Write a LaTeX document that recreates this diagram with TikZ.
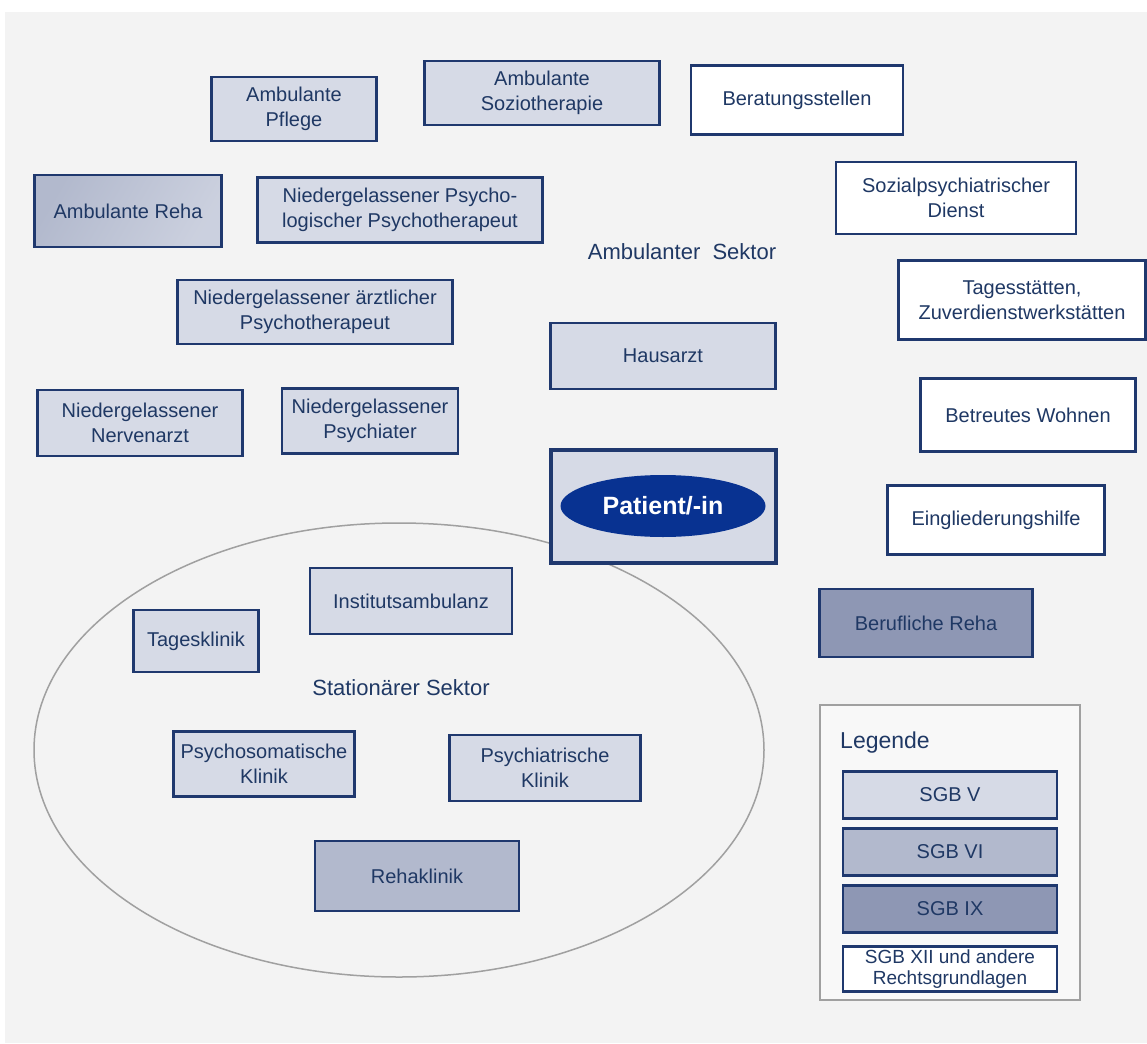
\documentclass[tikz,border=0pt]{standalone}
\usepackage{fontspec}
\setmainfont{Liberation Sans}
\usetikzlibrary{shapes.geometric}
\definecolor{bgc}{RGB}{243,243,243}
\definecolor{navy}{RGB}{31,56,110}
\definecolor{txt}{RGB}{31,56,100}
\definecolor{sgbv}{RGB}{214,218,230}
\definecolor{sgbvi}{RGB}{178,185,205}
\definecolor{sgbix}{RGB}{142,151,180}
\definecolor{pblue}{RGB}{8,50,145}
\definecolor{lgray}{RGB}{160,160,160}
\tikzset{
  box/.style={draw=navy, line width=2.5pt, rectangle, inner sep=0pt, align=center,
    text=txt, font=\fontsize{20}{25}\selectfont},
  fv/.style={box, fill=sgbv},
  fvi/.style={box, fill=sgbvi},
  fix/.style={box, fill=sgbix},
  fw/.style={box, fill=white},
  sector/.style={text=txt, font=\fontsize{22}{26}\selectfont, inner sep=0pt},
}
\begin{document}
\begin{tikzpicture}[x=1pt,y=-1pt]
\useasboundingbox (0,0) rectangle (1147,1043);
\fill[white] (0,0) rectangle (1147,1043);
\fill[bgc] (5,12) rectangle (1147,1043);

% Stationaerer Sektor ellipse
\draw[lgray, line width=1.5pt] (399,750) ellipse [x radius=365pt, y radius=227pt];

% Ambulant boxes
\node[fv, minimum width=165pt, minimum height=64pt] (pflege) at (294,109) {Ambulante\\Pflege};
\node[fv, minimum width=235pt, minimum height=64pt] (sozio) at (542,93) {Ambulante\\Soziotherapie};
\node[fw, minimum width=212pt, minimum height=69pt] (berat) at (797,100) {Beratungsstellen};
\node[fvi, minimum width=187pt, minimum height=72pt, shading=axis, left color=sgbvi, right color=sgbv!70!sgbvi, shading angle=60] (areha) at (128,211) {Ambulante Reha};
\node[fv, minimum width=285pt, minimum height=65pt] (npsych) at (400,210) {Niedergelassener Psycho-\\logischer Psychotherapeut};
\node[fw, minimum width=240pt, minimum height=72pt] (spd) at (956,198) {Sozialpsychiatrischer\\Dienst};
\node[sector] (amb) at (682,252) {Ambulanter\ \ Sektor};
\node[fv, minimum width=275pt, minimum height=64pt] (aerzt) at (315,312) {Niedergelassener ärztlicher\\Psychotherapeut};
\node[fw, minimum width=247pt, minimum height=79pt] (tages) at (1022,300) {Tagesstätten,\\Zuverdienstwerkstätten};
\node[fv, minimum width=225pt, minimum height=66pt] (haus) at (663,356) {Hausarzt};
\node[fw, minimum width=215pt, minimum height=73pt] (bw) at (1028,415) {Betreutes Wohnen};
\node[fv, minimum width=205pt, minimum height=66pt] (nerven) at (140,423) {Niedergelassener\\Nervenarzt};
\node[fv, minimum width=176pt, minimum height=65pt] (psychiater) at (370,421) {Niedergelassener\\Psychiater};

% Patient
\node[fv, line width=4pt, minimum width=225pt, minimum height=113pt] (pbox) at (663,506) {};
\node[ellipse, fill=pblue, inner sep=0pt, minimum width=205pt, minimum height=62pt,
  text=white, font=\fontsize{25}{30}\selectfont\bfseries] (patient) at (pbox.center) {Patient/-in};

\node[fw, minimum width=217pt, minimum height=69pt] (eingl) at (996,520) {Eingliederungshilfe};
\node[fix, minimum width=213pt, minimum height=68pt] (beruf) at (926,623) {Berufliche Reha};

% Stationaer boxes
\node[fv, minimum width=202pt, minimum height=66pt] (inst) at (411,601) {Institutsambulanz};
\node[fv, minimum width=125pt, minimum height=62pt] (tagesk) at (196,641) {Tagesklinik};
\node[sector] (stat) at (401,688) {Stationärer Sektor};
\node[fv, minimum width=181pt, minimum height=65pt] (psom) at (264,764) {Psychosomatische\\Klinik};
\node[fv, minimum width=191pt, minimum height=66pt] (psychk) at (545,768) {Psychiatrische\\Klinik};
\node[fvi, minimum width=204pt, minimum height=70pt] (reha) at (417,876) {Rehaklinik};

% Legend
\draw[lgray, line width=2pt, fill=bgc!60!white] (820,705) rectangle (1080,1000);
\node[sector, anchor=west, font=\fontsize{23}{27}\selectfont] (leg) at (840,743) {Legende};
\node[fv, minimum width=214pt, minimum height=47pt] (lv) at (950,795) {SGB V};
\node[fvi, minimum width=214pt, minimum height=47pt] (lvi) at (950,852) {SGB VI};
\node[fix, minimum width=214pt, minimum height=47pt] (lix) at (950,909) {SGB IX};
\node[fw, minimum width=214pt, minimum height=45pt, font=\fontsize{19}{21}\selectfont] (lxii) at (950,969) {SGB XII und andere\\Rechtsgrundlagen};
\end{tikzpicture}
\end{document}
